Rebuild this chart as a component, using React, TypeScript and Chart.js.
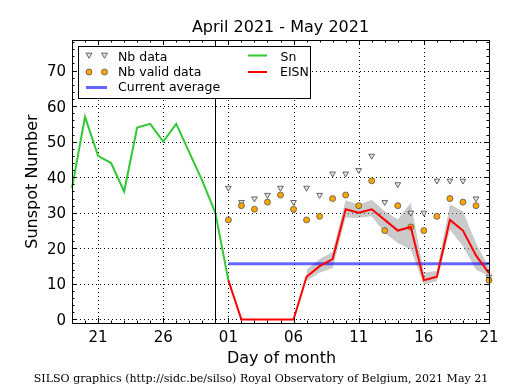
import React, { useEffect, useRef } from 'react';
import { Chart, registerables } from 'chart.js';

Chart.register(...registerables);

// ---- Data ----
const days = [
  '19', '20', '21', '22', '23', '24', '25', '26', '27', '28', '29', '30',
  '01', '02', '03', '04', '05', '06', '07', '08', '09', '10', '11', '12',
  '13', '14', '15', '16', '17', '18', '19', '20', '21',
];
const majorTickIdx = [2, 7, 12, 17, 22, 27, 32];
const yTicks = [0, 10, 20, 30, 40, 50, 60, 70];
const separatorIdx = 11;

// Sn: 19 April .. 1 May (index 0..12)
const snValues = [37, 57, 46, 44, 36, 54, 55, 50, 55, 47, 39, 30, 11];
// EISN: 1 May .. 21 May (index 12..32)
const eisnValues = [11, 0, 0, 0, 0, 0, 12, 15, 17, 31, 30, 31, 28, 25, 26, 11, 12, 28, 25, 18, 13];
// EISN error band: 7 May .. 21 May (index 18..32)
const eisnUpper = [14, 17, 19, 33.5, 32.3, 33.7, 30.4, 28.1, 32.8, 13.1, 13.6, 32.3, 30.4, 21.5, 14.5];
const eisnLower = [10.8, 13.1, 14.5, 28.6, 28.6, 29, 24.3, 21.5, 19.7, 9.8, 10.8, 25.3, 20.6, 14, 12.2];
// Number of stations: index 12..32
const nbData = [37, 33, 34, 35, 37, 33, 37, 35, 41, 41, 42, 46, 33, 38, 30, 30, 39, 39, 39, 34, 12];
const nbValid = [28, 32, 31, 33, 35, 31, 28, 29, 34, 35, 32, 39, 25, 32, 26, 25, 29, 34, 33, 32, 11];
const currentAverage = 15.7;

const titleText = 'April 2021 - May 2021';
const xLabel = 'Day of month';
const yLabel = 'Sunspot Number';
const footerText = 'SILSO graphics (http://sidc.be/silso) Royal Observatory of Belgium, 2021 May 21';

const place = (values: number[], start: number) => {
  const arr: (number | null)[] = days.map(() => null);
  values.forEach((v, i) => { arr[start + i] = v; });
  return arr;
};

const SANS = '"DejaVu Sans", sans-serif';
const SERIF = '"DejaVu Serif", serif';

function downTriangle(ctx: CanvasRenderingContext2D, x: number, y: number, r: number) {
  ctx.beginPath();
  ctx.moveTo(x - r, y - r * 0.8);
  ctx.lineTo(x + r, y - r * 0.8);
  ctx.lineTo(x, y + r * 0.9);
  ctx.closePath();
  ctx.fill();
  ctx.stroke();
}

const decorPlugin = {
  id: 'decor',
  beforeDatasetsDraw(chart: any) {
    const { ctx, chartArea: a, scales } = chart;
    const x = scales.x, y = scales.y;
    ctx.save();
    ctx.strokeStyle = '#000';
    ctx.lineWidth = 1;
    ctx.setLineDash([1, 3]);
    for (const i of majorTickIdx) {
      const px = Math.round(x.getPixelForValue(i)) + 0.5;
      ctx.beginPath(); ctx.moveTo(px, a.top); ctx.lineTo(px, a.bottom); ctx.stroke();
    }
    for (const v of yTicks) {
      const py = Math.round(y.getPixelForValue(v)) + 0.5;
      ctx.beginPath(); ctx.moveTo(a.left, py); ctx.lineTo(a.right, py); ctx.stroke();
    }
    ctx.setLineDash([]);
    ctx.restore();
  },
  afterDatasetsDraw(chart: any) {
    const { ctx, chartArea: a, scales } = chart;
    const x = scales.x, y = scales.y;
    ctx.save();
    // separator
    ctx.strokeStyle = '#000';
    ctx.lineWidth = 1;
    const sx = Math.round(x.getPixelForValue(separatorIdx)) + 0.5;
    ctx.beginPath(); ctx.moveTo(sx, a.top); ctx.lineTo(sx, a.bottom); ctx.stroke();

    // ticks (inward, all sides)
    const majL = 5, minL = 2.5;
    for (let i = 0; i < days.length; i++) {
      const px = Math.round(x.getPixelForValue(i)) + 0.5;
      const L = majorTickIdx.includes(i) ? majL : minL;
      ctx.beginPath();
      ctx.moveTo(px, a.bottom); ctx.lineTo(px, a.bottom - L);
      ctx.moveTo(px, a.top); ctx.lineTo(px, a.top + L);
      ctx.stroke();
    }
    for (let v = 0; v <= 78; v += 2) {
      const py = Math.round(y.getPixelForValue(v)) + 0.5;
      const L = v % 10 === 0 ? majL : minL;
      ctx.beginPath();
      ctx.moveTo(a.left, py); ctx.lineTo(a.left + L, py);
      ctx.moveTo(a.right, py); ctx.lineTo(a.right - L, py);
      ctx.stroke();
    }
    // frame
    ctx.strokeRect(Math.round(a.left) + 0.5, Math.round(a.top) + 0.5,
      Math.round(a.right - a.left), Math.round(a.bottom - a.top));

    // legend
    const lx = 78.5, ly = 46.5, lw = 232, lh = 52;
    ctx.fillStyle = '#fff';
    ctx.fillRect(lx, ly, lw, lh);
    ctx.strokeStyle = '#000';
    ctx.strokeRect(lx, ly, lw, lh);
    ctx.font = `12.5px ${SANS}`;
    ctx.fillStyle = '#000';
    ctx.textAlign = 'left';
    ctx.textBaseline = 'alphabetic';
    ctx.fillText('Nb data', 118, 60.5);
    ctx.fillText('Nb valid data', 118, 76);
    ctx.fillText('Current average', 118, 91.3);
    ctx.fillText('Sn', 280.5, 60.5);
    ctx.fillText('EISN', 280, 76);
    // markers
    ctx.fillStyle = '#e6e6e6';
    ctx.strokeStyle = '#444';
    ctx.lineWidth = 0.8;
    downTriangle(ctx, 89, 55.5, 3);
    downTriangle(ctx, 104.5, 55.5, 3);
    ctx.fillStyle = '#ffa500';
    ctx.strokeStyle = '#555';
    for (const cx of [89, 104.5]) {
      ctx.beginPath(); ctx.arc(cx, 72, 3, 0, Math.PI * 2); ctx.fill(); ctx.stroke();
    }
    ctx.lineWidth = 3;
    ctx.strokeStyle = 'rgba(0,0,255,0.6)';
    ctx.beginPath(); ctx.moveTo(86, 87.5); ctx.lineTo(107, 87.5); ctx.stroke();
    ctx.lineWidth = 2;
    ctx.strokeStyle = 'rgb(50,200,50)';
    ctx.beginPath(); ctx.moveTo(248, 55.5); ctx.lineTo(267, 55.5); ctx.stroke();
    ctx.strokeStyle = '#ff0000';
    ctx.beginPath(); ctx.moveTo(248, 72); ctx.lineTo(267, 72); ctx.stroke();

    // texts
    ctx.fillStyle = '#000';
    ctx.textAlign = 'center';
    ctx.font = `16px ${SANS}`;
    const cx = (a.left + a.right) / 2;
    ctx.fillText(titleText, cx, 32);
    ctx.fillText(xLabel, cx + 1, 362.5);
    ctx.save();
    ctx.translate(36.5, (a.top + a.bottom) / 2);
    ctx.rotate(-Math.PI / 2);
    ctx.fillText(yLabel, 0, 0);
    ctx.restore();
    ctx.font = `11.05px ${SERIF}`;
    ctx.fillText(footerText, 261, 382);
    ctx.restore();
  },
};

export default function App() {
  const ref = useRef<HTMLCanvasElement>(null);
  useEffect(() => {
    if (!ref.current) return;
    const avgData = days.map((_, i) => (i === 12 || i === days.length - 1 ? currentAverage : null));
    const chart = new Chart(ref.current, {
      type: 'line',
      data: {
        labels: days,
        datasets: [
          {
            label: 'EISN', data: place(eisnValues, 12), borderColor: '#ff0000', borderWidth: 2,
            pointRadius: 0, fill: false, order: 1, tension: 0,
          },
          {
            label: 'Nb valid data', data: place(nbValid, 12), showLine: false,
            pointStyle: 'circle', pointRadius: 3, pointBackgroundColor: '#ffa500',
            pointBorderColor: '#555', pointBorderWidth: 0.8, order: 2,
          },
          {
            label: 'Nb data', data: place(nbData, 12), showLine: false,
            pointStyle: 'triangle', rotation: 180, pointRadius: 3.3, pointBackgroundColor: '#e6e6e6',
            pointBorderColor: '#444', pointBorderWidth: 0.8, order: 3,
          },
          {
            label: 'Sn', data: place(snValues, 0), borderColor: 'rgb(50,200,50)', borderWidth: 2,
            pointRadius: 0, fill: false, order: 4,
          },
          {
            label: 'Current average', data: avgData, borderColor: 'rgba(0,0,255,0.6)', borderWidth: 3,
            pointRadius: 0, fill: false, spanGaps: true, order: 5,
          },
          {
            label: 'upper', data: place(eisnUpper, 18), borderWidth: 0, borderColor: 'rgba(0,0,0,0)',
            pointRadius: 0, fill: '+1', backgroundColor: 'rgba(150,150,150,0.5)', order: 6,
          },
          {
            label: 'lower', data: place(eisnLower, 18), borderWidth: 0, borderColor: 'rgba(0,0,0,0)',
            pointRadius: 0, fill: false, order: 7,
          },
        ],
      },
      options: {
        animation: false,
        responsive: false,
        layout: { padding: { top: 40, right: 26, left: 0, bottom: 0 } },
        plugins: { legend: { display: false }, tooltip: { enabled: false }, title: { display: false } },
        scales: {
          x: {
            type: 'category', offset: false,
            grid: { display: false, drawTicks: false }, border: { display: false },
            afterBuildTicks: (s: any) => { s.ticks = majorTickIdx.map((v) => ({ value: v })); },
            afterFit: (s: any) => { s.height = 67; },
            ticks: {
              autoSkip: false, maxRotation: 0, padding: 6, color: '#000',
              font: { family: SANS, size: 15 },
              callback: (v: any) => days[v as number],
            },
          },
          y: {
            type: 'linear', min: -1, max: 78.6,
            grid: { display: false, drawTicks: false }, border: { display: false },
            afterBuildTicks: (s: any) => { s.ticks = yTicks.map((v) => ({ value: v })); },
            afterFit: (s: any) => { s.width = 72; },
            ticks: {
              padding: 6, labelOffset: 1.5, color: '#000', font: { family: SANS, size: 15 },
              callback: (v: any) => String(v),
            },
          },
        },
      },
      plugins: [decorPlugin],
    });
    return () => chart.destroy();
  }, []);
  return (
    <div style={{ position: 'absolute', left: 0, top: 0, width: 515, height: 390, background: '#fff' }}>
      <canvas ref={ref} width={515} height={390} />
    </div>
  );
}
